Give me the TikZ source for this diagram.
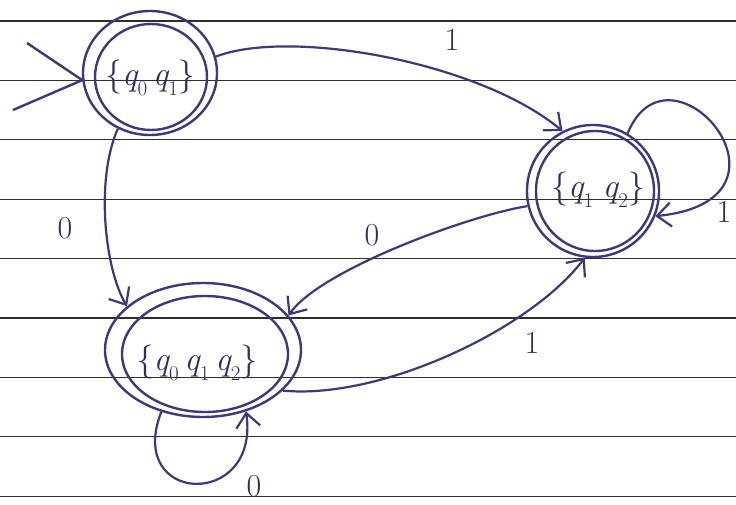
\documentclass[tikz,border=0pt]{standalone}
\usetikzlibrary{arrows.meta,shapes.geometric}
\definecolor{ink}{RGB}{58,58,125}
\definecolor{rulecol}{RGB}{45,45,45}
\newcommand{\qsub}[1]{\textit{q}\kern-1pt\raisebox{-0.3em}{\fontsize{21}{21}\selectfont #1}}
\begin{document}
\begin{tikzpicture}[x=1pt,y=-1pt,
  state/.style={ellipse,draw=ink,line width=2.4pt,inner sep=0pt},
  statetext/.style={text=ink!80!black,font=\fontsize{34}{38}\selectfont},
  sym/.style={text=ink!80!black,font=\fontsize{32}{34}\selectfont},
  edge/.style={draw=ink,line width=2.2pt,-{Straight Barb[length=14pt,width=24pt,line width=2.2pt]}},
  ruled/.style={draw=rulecol,line width=1.2pt}]
\fill[white] (0,0) rectangle (736,505);
\useasboundingbox (0,0) rectangle (736,505);
\foreach \k in {0,...,8} \draw[ruled] (0,{21+59.4*\k}) -- (736,{21+59.4*\k});

% states
\node[state,minimum width=134pt,minimum height=124pt] (s01) at (150,73) {};
\node[state,minimum width=112pt,minimum height=106pt] (s01in) at (151,77) {};
\node[statetext] (t01) at (150,78) {\{\qsub{0}\,\qsub{1}\}};

\node[state,minimum width=132pt,minimum height=132pt] (s12) at (593,191) {};
\node[state,minimum width=118pt,minimum height=120pt] (s12in) at (595,191) {};
\node[statetext] (t12) at (598,190) {\{\qsub{1}\;\qsub{2}\}};

\node[state,minimum width=196pt,minimum height=134pt] (s012) at (203,350) {};
\node[state,minimum width=166pt,minimum height=116pt] (s012in) at (205,354) {};
\node[statetext] (t012) at (197,363) {\{\qsub{0}\,\qsub{1}\,\qsub{2}\}};

% start arrow
\coordinate (in1) at (27,43);
\coordinate (in2) at (13,110);
\draw[ink,line width=2.4pt] (in1) -- (s01.186) -- (in2);

% transitions
\draw[edge] (s01.14) .. controls (290,28) and (480,62) .. (s12.117);
\node[sym] (l1) at (452,40) {1};

\draw[edge] (s01.240) .. controls (95,180) and (105,270) .. (s012.150);
\node[sym] (l2) at (65,228) {0};

\draw[edge] (s12.193) .. controls (470,215) and (320,270) .. (s012.22);
\node[sym] (l3) at (372,235) {0};

\draw[edge] (s012.333) .. controls (380,400) and (530,330) .. (s12.263);
\node[sym] (l4) at (532,343) {1};

\draw[edge] (s12.59) .. controls (670,30) and (815,200) .. (s12.338);
\node[sym] (l5) at (724,212) {1};

\draw[edge] (s012.236) .. controls (125,505) and (260,510) .. (s012.305);
\node[sym] (l6) at (254,486) {0};
\end{tikzpicture}
\end{document}
